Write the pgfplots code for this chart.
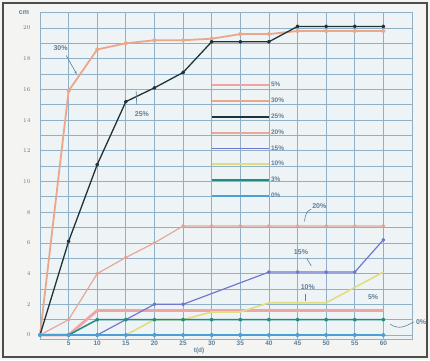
\documentclass[border=0pt]{standalone}
\usepackage{fontspec}
\setmainfont{Liberation Sans}
\usepackage{pgfplots}
\pgfplotsset{compat=1.18}
\usetikzlibrary{arrows.meta}
\definecolor{paper}{HTML}{EEF3F6}
\definecolor{bg}{HTML}{F4F5F3}
\definecolor{gridc}{HTML}{8FB0C6}
\definecolor{txtc}{HTML}{5F7F96}
\definecolor{pinkc}{HTML}{F0A4A4}
\definecolor{orangec}{HTML}{E9A88C}
\definecolor{blackc}{HTML}{1F3438}
\definecolor{salmonc}{HTML}{E6A898}
\definecolor{purplec}{HTML}{7078D0}
\definecolor{yellowc}{HTML}{E2DC82}
\definecolor{tealc}{HTML}{1E8C80}
\definecolor{bluec}{HTML}{4AA0D4}
\definecolor{dotc}{HTML}{24424A}
\begin{document}
\begin{tikzpicture}[x=1pt,y=1pt]
\fill[bg] (0,0) rectangle (430,360);
\draw[gray!60!black, line width=1.2pt] (3,3) rectangle (427,357);
\node[text=txtc, font=\fontsize{7}{8}\selectfont\bfseries] at (24,347) {cm};
\begin{axis}[
  at={(40pt,20.4pt)}, anchor=south west, scale only axis,
  width=372pt, height=327pt,
  xmin=0, xmax=65, ymin=-0.3, ymax=21,
  clip=false,
  axis background/.style={fill=paper},
  axis line style={draw=gridc, line width=0.8pt},
  xtick={5,10,...,60}, ytick={0,2,...,20},
  minor ytick={1,3,...,21},
  extra x ticks={65}, extra x tick labels={},
  grid=both,
  major grid style={draw=gridc, line width=0.7pt},
  minor grid style={draw=gridc, line width=0.7pt},
  major tick length=0pt, minor tick length=0pt,
  tick label style={text=txtc, font=\fontsize{6.5}{7}\selectfont\bfseries},
  yticklabel style={xshift=-6pt},
  xticklabel style={yshift=2pt},
  xticklabels={5,10,15,20,25,30,35,40,45,50,55,60},
  legend style={at={(0.46,0.79)}, anchor=north west, draw=none, fill=none,
    inner sep=0pt, row sep=8.3pt, font=\fontsize{6.5}{7}\selectfont\bfseries,
    text=txtc, nodes={inner sep=1pt, text height=4.5pt, text depth=1pt}},
  legend cell align=left,
  legend image code/.code={\draw[#1, line width=1.8pt] (0pt,0pt) -- (57pt,0pt);},
  every axis plot/.append style={line join=round},
  dots/.style={mark=*, mark size=1.3pt, mark options={fill=dotc, draw=none}},
]
\addplot[pinkc, line width=2.8pt] coordinates {(0,0) (5,0) (10,1.6) (15,1.6) (20,1.6) (25,1.6) (30,1.6) (35,1.6) (40,1.6) (45,1.6) (50,1.6) (55,1.6) (60,1.6)};
\addlegendentry{5\%}
\addplot[orangec, line width=1.8pt, dots] coordinates {(0,0) (5,15.9) (10,18.6) (15,19.0) (20,19.2) (25,19.2) (30,19.3) (35,19.6) (40,19.6) (45,19.8) (50,19.8) (55,19.8) (60,19.8)};
\addlegendentry{30\%}
\addplot[blackc, line width=1.3pt, dots] coordinates {(0,0) (5,6.1) (10,11.1) (15,15.2) (20,16.1) (25,17.1) (30,19.1) (35,19.1) (40,19.1) (45,20.1) (50,20.1) (55,20.1) (60,20.1)};
\addlegendentry{25\%}
\addplot[salmonc, line width=1.2pt, dots] coordinates {(0,0) (5,1.0) (10,4.0) (15,5.05) (20,6.0) (25,7.1) (30,7.1) (35,7.1) (40,7.1) (45,7.1) (50,7.1) (55,7.1) (60,7.1)};
\addlegendentry{20\%}
\addplot[purplec, line width=1.2pt, dots] coordinates {(0,0) (5,0) (10,0) (20,2.0) (25,2.0) (40,4.1) (45,4.1) (50,4.1) (55,4.1) (60,6.2)};
\addlegendentry{15\%}
\addplot[yellowc, line width=1.6pt] coordinates {(0,0) (15,0) (20,1.0) (25,1.0) (30,1.5) (35,1.5) (40,2.1) (45,2.1) (50,2.1) (60,4.1)};
\addlegendentry{10\%}
\addplot[tealc, line width=1.5pt, dots] coordinates {(0,0) (5,0) (10,1.0) (15,1.0) (20,1.0) (25,1.0) (30,1.0) (35,1.0) (40,1.0) (45,1.0) (50,1.0) (55,1.0) (60,1.0)};
\addlegendentry{3\%}
\addplot[bluec, line width=1.8pt, dots] coordinates {(0,0) (5,0) (10,0) (15,0) (20,0) (25,0) (30,0) (35,0) (40,0) (45,0) (50,0) (55,0) (60,0)};
\addlegendentry{0\%}
% annotations
\node[text=txtc, font=\fontsize{7}{8}\selectfont\bfseries] at (axis cs:3.6,18.7) {30\%};
\draw[txtc, line width=0.6pt, -{Stealth[length=3pt]}] (axis cs:4.6,18.2) -- (axis cs:6.4,17.0);
\node[text=txtc, font=\fontsize{7}{8}\selectfont\bfseries] at (axis cs:17.8,14.4) {25\%};
\draw[txtc, line width=0.6pt] (axis cs:16.8,15.9) -- (axis cs:16.9,15.0);
\node[text=txtc, font=\fontsize{7}{8}\selectfont\bfseries] at (axis cs:48.8,8.4) {20\%};
\draw[txtc, line width=0.6pt] (axis cs:46.2,7.4) .. controls (axis cs:46.5,8.0) .. (axis cs:47.4,8.2);
\node[text=txtc, font=\fontsize{7}{8}\selectfont\bfseries] at (axis cs:45.6,5.4) {15\%};
\draw[txtc, line width=0.6pt] (axis cs:46.6,5.0) -- (axis cs:47.4,4.5);
\node[text=txtc, font=\fontsize{7}{8}\selectfont\bfseries] at (axis cs:46.8,3.1) {10\%};
\draw[txtc, line width=0.6pt] (axis cs:46.4,2.7) -- (axis cs:46.4,2.2);
\node[text=txtc, font=\fontsize{7}{8}\selectfont\bfseries] at (axis cs:58.2,2.5) {5\%};
\node[text=txtc, font=\fontsize{7}{8}\selectfont\bfseries] at (axis cs:66.6,0.85) {0\%};
\draw[txtc, line width=0.6pt] (axis cs:61.2,0.7) .. controls (axis cs:62.8,0.3) and (axis cs:64,0.6) .. (axis cs:65.3,0.85);
\node[text=txtc, font=\fontsize{6.5}{7}\selectfont\bfseries] at (axis cs:27.8,-1.05) {t(d)};
\end{axis}
\end{tikzpicture}
\end{document}
